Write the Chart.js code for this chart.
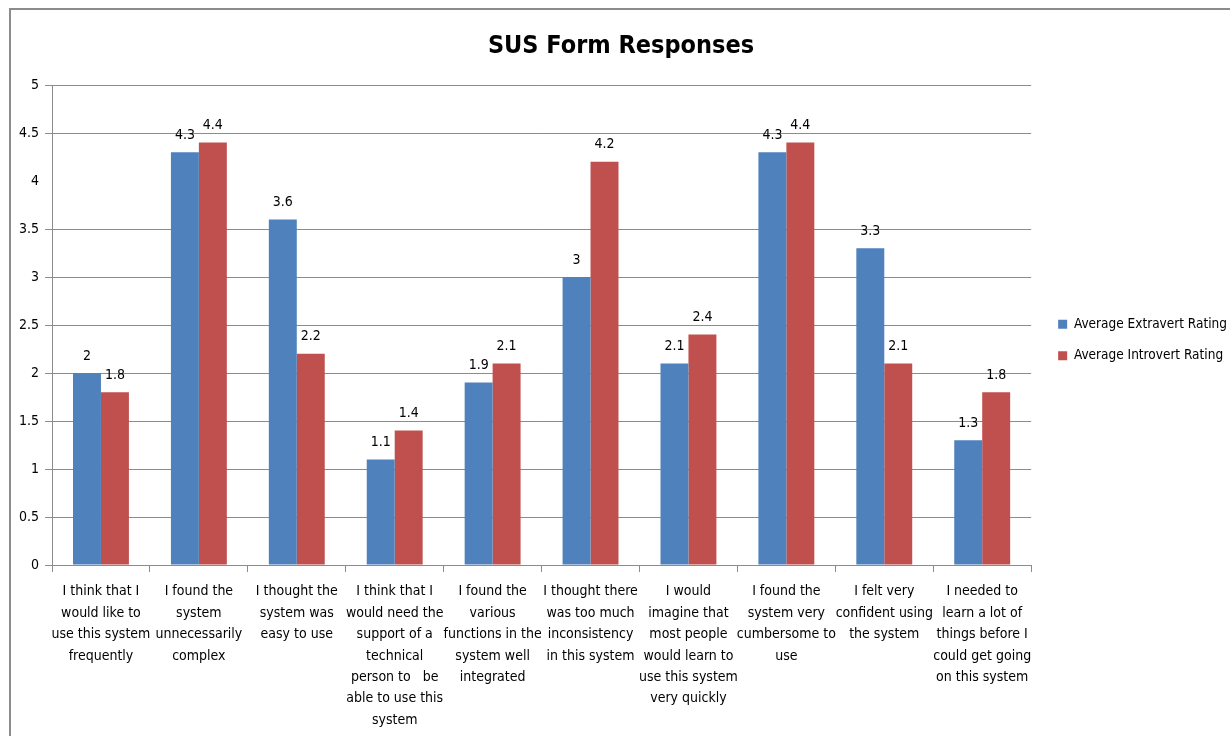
<!DOCTYPE html>
<html>
<head>
<meta charset="utf-8">
<script src="https://cdn.jsdelivr.net/npm/chart.js@4/dist/chart.umd.min.js"></script>
<style>
  html, body { margin: 0; padding: 0; background: #fff; }
  #wrap { position: relative; width: 1230px; height: 736px; overflow: hidden; }
  #frame { position: absolute; left: 9px; top: 8px; width: 1400px; height: 900px;
           border-left: 2px solid #8c8c8c; border-top: 2px solid #8c8c8c; }
  canvas { position: absolute; left: 0; top: 0; }
</style>
</head>
<body>
<div id="wrap">
  <div id="frame"></div>
  <canvas id="c" width="1230" height="736"></canvas>
</div>
<script>
const title = "SUS Form Responses";
const categories = [
  ["I think that I", "would like to", "use this system", "frequently"],
  ["I found the", "system", "unnecessarily", "complex"],
  ["I thought the", "system was", "easy to use"],
  ["I think that I", "would need the", "support of a", "technical", "person to   be", "able to use this", "system"],
  ["I found the", "various", "functions in the", "system well", "integrated"],
  ["I thought there", "was too much", "inconsistency", "in this system"],
  ["I would", "imagine that", "most people", "would learn to", "use this system", "very quickly"],
  ["I found the", "system very", "cumbersome to", "use"],
  ["I felt very", "confident using", "the system"],
  ["I needed to", "learn a lot of", "things before I", "could get going", "on this system"]
];
const seriesNames = ["Average Extravert Rating", "Average Introvert Rating"];
const extravert = [2, 4.3, 3.6, 1.1, 1.9, 3, 2.1, 4.3, 3.3, 1.3];
const introvert = [1.8, 4.4, 2.2, 1.4, 2.1, 4.2, 2.4, 4.4, 2.1, 1.8];

const FONT = "'Liberation Sans Narrow', 'DejaVu Sans Condensed', 'Open Sans', sans-serif";

const valueLabels = {
  id: 'valueLabels',
  afterDatasetsDraw(chart) {
    const ctx = chart.ctx;
    ctx.save();
    ctx.font = "14px " + FONT;
    ctx.fillStyle = "#000";
    ctx.textAlign = "center";
    ctx.textBaseline = "bottom";
    chart.data.datasets.forEach((ds, i) => {
      const meta = chart.getDatasetMeta(i);
      meta.data.forEach((bar, j) => {
        ctx.fillText(String(ds.data[j]), bar.x, bar.y - 10);
      });
    });
    ctx.restore();
  }
};

const legendShift = {
  id: 'legendShift',
  afterLayout(chart) {
    const l = chart.legend;
    if (l) { l.left += 9; l.right += 9; l.top -= 40; l.bottom -= 40; }
  }
};

new Chart(document.getElementById('c'), {
  type: 'bar',
  data: {
    labels: categories,
    datasets: [
      { label: seriesNames[0], data: extravert, backgroundColor: '#4F81BD', borderWidth: 0 },
      { label: seriesNames[1], data: introvert, backgroundColor: '#C0504D', borderWidth: 0 }
    ]
  },
  options: {
    responsive: false,
    animation: false,
    devicePixelRatio: 1,
    layout: { padding: { left: 14, top: 24, right: 2, bottom: 0 } },
    datasets: { bar: { categoryPercentage: 0.571, barPercentage: 1.0 } },
    plugins: {
      title: {
        display: true, text: title, color: '#000',
        font: { family: FONT, size: 25, weight: 'bold' },
        padding: { top: 7, bottom: 24 }
      },
      legend: {
        position: 'right',
        labels: {
          boxWidth: 9, boxHeight: 9, padding: 18, color: '#000',
          font: { family: FONT, size: 13.5 }
        }
      },
      tooltip: { enabled: false }
    },
    scales: {
      x: {
        grid: { display: true, drawOnChartArea: false, drawTicks: true, tickLength: 7, color: '#8c8c8c', offset: true },
        border: { color: '#8c8c8c' },
        ticks: {
          maxRotation: 0, minRotation: 0, autoSkip: false, color: '#000', padding: 9,
          font: { family: FONT, size: 14, lineHeight: 1.53 }
        },
        afterFit(scale) { scale.height = 171; }
      },
      y: {
        min: 0, max: 5,
        ticks: {
          stepSize: 0.5, color: '#000', padding: 6,
          font: { family: FONT, size: 14 },
          callback: (v) => String(Math.round(v * 10) / 10)
        },
        grid: {
          tickLength: 7,
          color: (c) => (c.tick && Math.abs(c.tick.value - 4) < 1e-6) ? 'rgba(0,0,0,0)' : '#8c8c8c'
        },
        border: { color: '#8c8c8c' },
        afterFit(scale) { scale.width = 38; }
      }
    }
  },
  plugins: [valueLabels, legendShift]
});
</script>
</body>
</html>
